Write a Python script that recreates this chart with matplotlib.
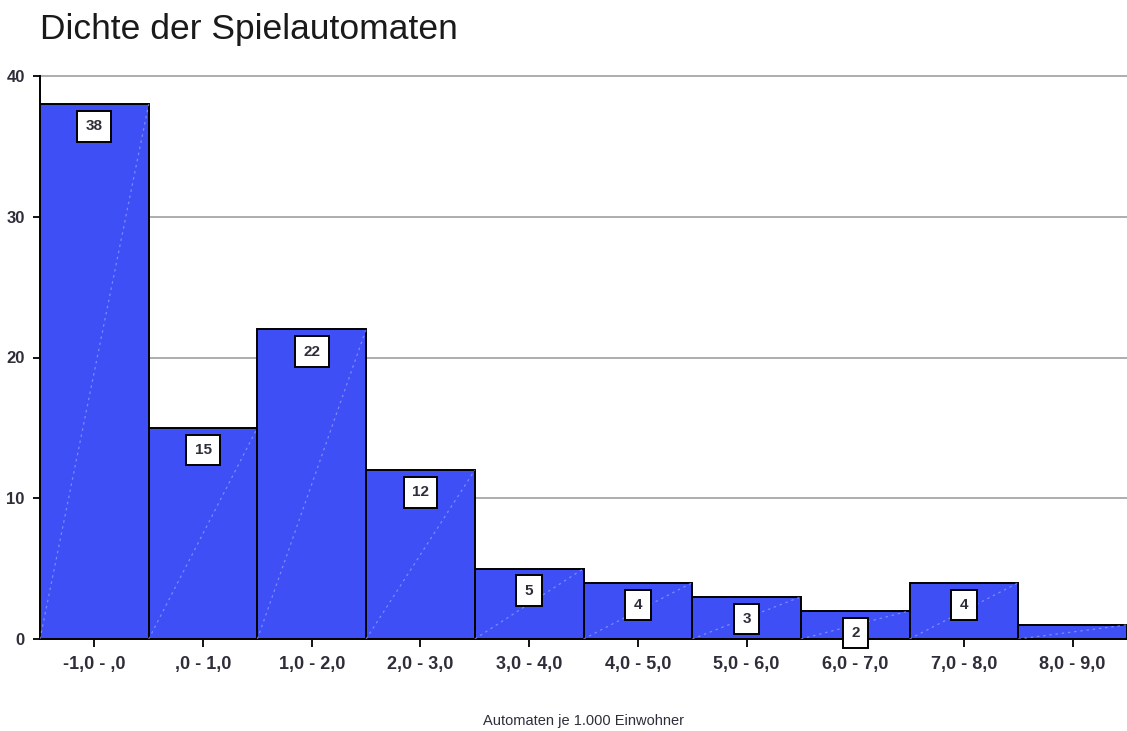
import matplotlib.pyplot as plt
import numpy as np

# Histogram data
categories = ["-1,0 - ,0", ",0 - 1,0", "1,0 - 2,0", "2,0 - 3,0", "3,0 - 4,0",
              "4,0 - 5,0", "5,0 - 6,0", "6,0 - 7,0", "7,0 - 8,0", "8,0 - 9,0"]
counts = [38, 15, 22, 12, 5, 4, 3, 2, 4, 1]
shown_labels = [True, True, True, True, True, True, True, True, True, False]
y_ticks = [0, 10, 20, 30, 40]

fam = ["Liberation Sans", "DejaVu Sans"]
text_col = "#2e2e3a"

fig = plt.figure(figsize=(11.27, 7.31), dpi=100)
ax = fig.add_axes([40 / 1127, 1 - 639 / 731, 1 - 40 / 1127, (639 - 76) / 731])

x = np.arange(len(counts))
ax.bar(x, counts, width=1.0, color="#3d4ff5", edgecolor="black", linewidth=1.4, zorder=2)

# faint diagonal lines inside bars
for xi, c in zip(x, counts):
    ax.plot([xi - 0.5, xi + 0.5], [0, c], color="#a8b2ff", lw=0.9,
            linestyle=(0, (2, 3)), alpha=0.6, zorder=3)

# value labels in white boxes
for xi, c, show in zip(x, counts, shown_labels):
    if not show:
        continue
    ax.annotate(str(c), (xi, c), xytext=(0, -16), textcoords="offset points",
                ha="center", va="center", fontsize=11, fontweight="bold",
                family=fam, color=text_col, zorder=5,
                bbox=dict(boxstyle="square,pad=0.55", fc="white", ec="black", lw=1.4))

ax.set_xlim(-0.5, 9.5)
ax.set_ylim(0, 40)
ax.set_yticks(y_ticks)
ax.set_xticks(x)
ax.set_xticklabels(categories)
ax.yaxis.grid(True, color="#a0a0a0", linewidth=1.2, zorder=0)
ax.set_axisbelow(True)
for gl in ax.yaxis.get_gridlines():
    gl.set_clip_on(False)

for s in ["top", "right"]:
    ax.spines[s].set_visible(False)
ax.spines["left"].set_linewidth(1.4)
ax.spines["bottom"].set_linewidth(1.4)

ax.tick_params(axis="x", length=6, width=1.3, pad=6, labelsize=13, labelcolor=text_col)
ax.tick_params(axis="y", length=5, width=1.3, pad=6, labelsize=12, labelcolor=text_col)
for lbl in ax.get_xticklabels() + ax.get_yticklabels():
    lbl.set_fontweight("bold")
    lbl.set_family(fam)

ax.set_xlabel("Automaten je 1.000 Einwohner", fontsize=10.5, family=fam,
              color=text_col, labelpad=30)

fig.text(40 / 1127, 1 - 39 / 731, "Dichte der Spielautomaten", fontsize=25.5,
         family=fam, color="#1a1a1a", va="baseline")

fig.savefig("out.png", dpi=100)
